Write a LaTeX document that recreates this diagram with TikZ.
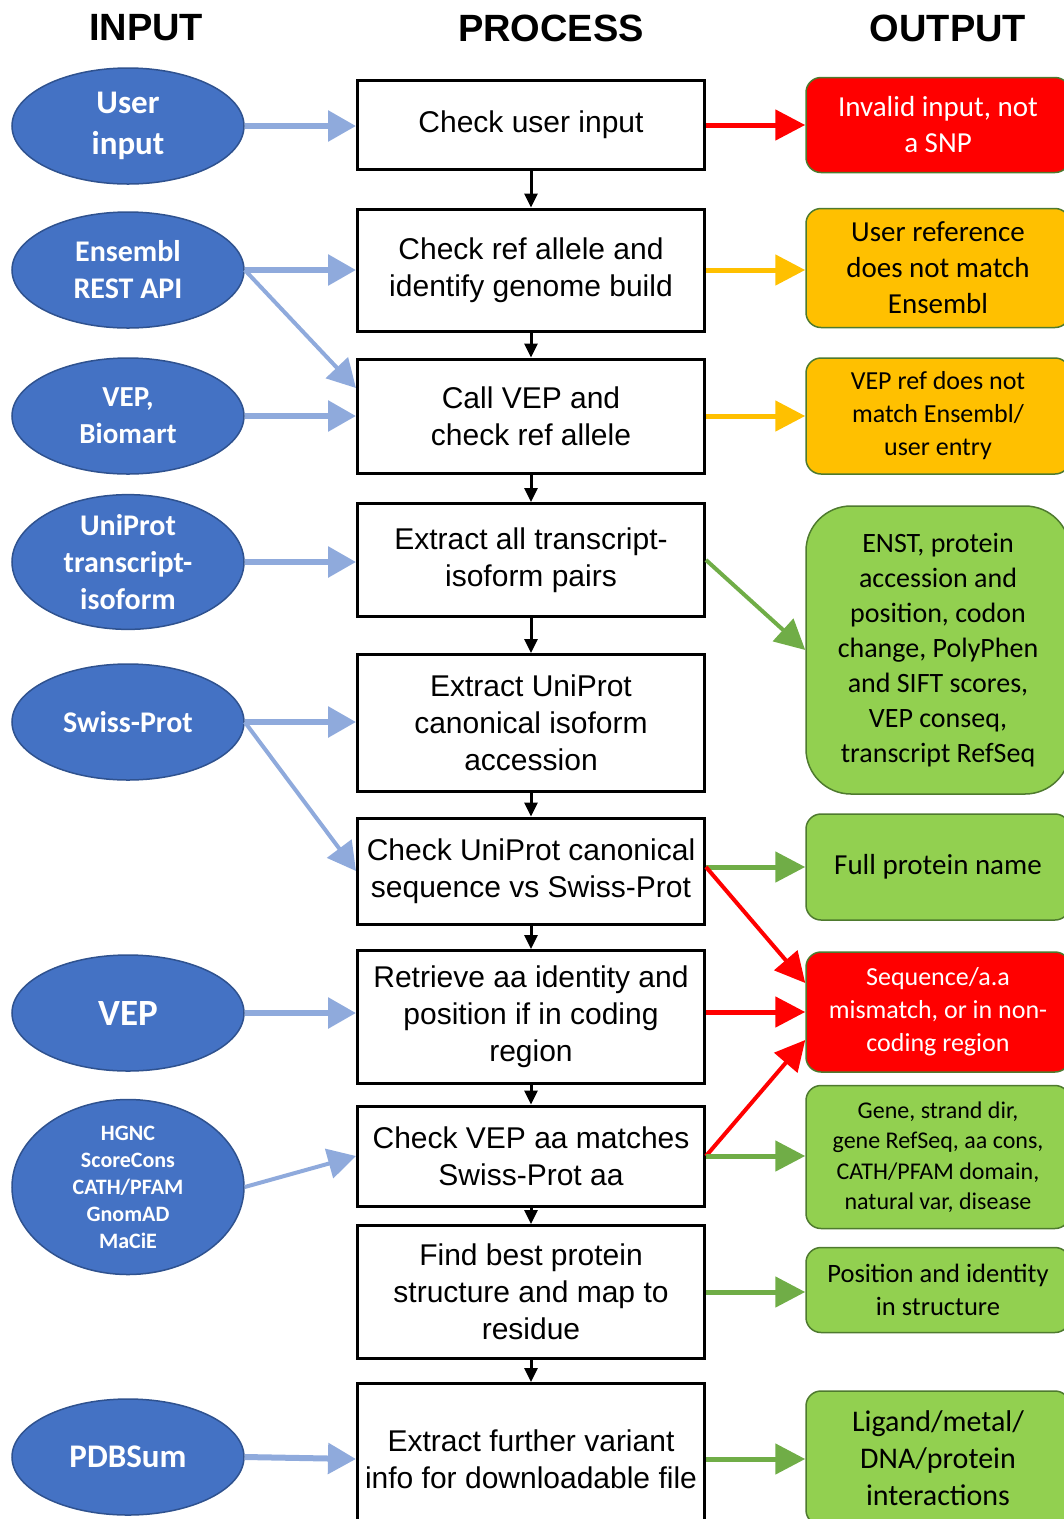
\documentclass[tikz,border=0pt]{standalone}
\usepackage{fontspec}
\setmainfont{Liberation Sans}
\newfontfamily\calibri{Carlito}
\usetikzlibrary{arrows.meta,shapes.geometric}

\definecolor{inblue}{HTML}{4472C4}
\definecolor{inedge}{HTML}{2F528F}
\definecolor{arrblue}{HTML}{8FAADC}
\definecolor{outred}{HTML}{FF0000}
\definecolor{outorange}{HTML}{FFC000}
\definecolor{outgreen}{HTML}{92D050}
\definecolor{outedge}{HTML}{4E7A2E}
\definecolor{arrgreen}{HTML}{70AD47}
\newcommand{\fsz}[2]{\fontsize{#1}{#2}\selectfont}

\begin{document}
\begin{tikzpicture}[x=1pt,y=-1pt,
    head/.style={font=\bfseries\fsz{38}{44}},
    src/.style={ellipse,draw=inedge,line width=1.5pt,fill=inblue,text=white,minimum width=232pt,minimum height=116pt,inner sep=0pt,align=center,font=\calibri\bfseries\fsz{30}{37}},
    proc/.style={draw,line width=3pt,minimum width=347pt,inner sep=1pt,align=center,font=\fsz{30}{37}},
    res/.style={draw=outedge,line width=1.5pt,rounded corners=15pt,minimum width=264pt,inner sep=2pt,align=center,font=\calibri\fsz{29}{36}},
    flow/.style={-{Triangle[length=14pt,width=13pt]},line width=3pt},
    feed/.style={-{Triangle[length=28pt,width=30pt]},line width=6pt,draw=arrblue},
    feedslant/.style={feed,line width=4pt},
    outarr/.style={-{Triangle[length=30pt,width=30pt]},line width=5pt},
    outslant/.style={outarr,line width=4pt}
  ]
    \useasboundingbox (0,0) rectangle (1064,1519);
    \clip (0,0) rectangle (1064,1519);

    % column headers
    \node[head] (hin) at (146,28) {INPUT};
    \node[head] (hproc) at (551,28) {PROCESS};
    \node[head] (hout) at (948,28) {OUTPUT};

    % process column
    \node[proc,minimum height=89pt] (p1) at (531,125) {Check user input};
    \node[proc,minimum height=122pt] (p2) at (531,270) {Check ref allele and\\identify genome build};
    \node[proc,minimum height=114pt] (p3) at (531,416) {Call VEP and\\check ref allele};
    \node[proc,minimum height=113pt] (p4) at (531,560) {Extract all transcript-\\isoform pairs};
    \node[proc,minimum height=137pt] (p5) at (531,723) {Extract UniProt\\canonical isoform\\accession};
    \node[proc,minimum height=106pt] (p6) at (531,871) {Check UniProt canonical\\sequence vs Swiss-Prot};
    \node[proc,minimum height=133pt] (p7) at (531,1017) {Retrieve aa identity and\\position if in coding\\region};
    \node[proc,minimum height=100pt] (p8) at (531,1156) {Check VEP aa matches\\Swiss-Prot aa};
    \node[proc,minimum height=133pt] (p9) at (531,1292) {Find best protein\\structure and map to\\residue};
    \node[proc,minimum height=151pt] (p10) at (531,1459) {Extract further variant\\info for downloadable file};

    % inputs
    \node[src,font=\calibri\bfseries\fsz{33}{41}] (userin) at (128,126) {User\\input};
    \node[src] (ensembl) at (128,270) {Ensembl\\REST API};
    \node[src,font=\calibri\bfseries\fsz{29}{37}] (vepbio) at (128,416) {VEP,\\Biomart};
    \node[src] (uniprot) at (128,562) {UniProt\\transcript-\\isoform};
    \node[src] (swiss) at (128,722) {Swiss-Prot};
    \node[src,font=\calibri\bfseries\fsz{37}{44}] (vep) at (128,1013) {VEP};
    \node[src,minimum height=175pt,font=\calibri\bfseries\fsz{22}{27}] (hgnc) at (128,1187) {HGNC\\ScoreCons\\CATH/PFAM\\GnomAD\\MaCiE};
    \node[src,font=\calibri\bfseries\fsz{33}{40}] (pdbsum) at (128,1457) {PDBSum};

    % outputs
    \node[res,fill=outred,text=white,minimum height=95pt] (invalid) at (938,125) {Invalid input, not\\a SNP};
    \node[res,fill=outorange,minimum height=119pt] (usermis) at (938,268) {User reference\\does not match\\Ensembl};
    \node[res,fill=outorange,minimum height=116pt,font=\calibri\fsz{26}{33}] (vepmis) at (938,416) {VEP ref does not\\match Ensembl/\\user entry};
    \node[res,fill=outgreen,minimum height=288pt,rounded corners=45pt,font=\calibri\fsz{28}{35}] (enst) at (938,650) {ENST, protein\\accession and\\position, codon\\change, PolyPhen\\and SIFT scores,\\VEP conseq,\\transcript RefSeq};
    \node[res,fill=outgreen,minimum height=106pt] (fullname) at (938,867) {Full protein name};
    \node[res,fill=outred,text=white,minimum height=120pt,font=\calibri\fsz{26}{33}] (seqmis) at (938,1012) {Sequence/a.a\\mismatch, or in non-\\coding region};
    \node[res,fill=outgreen,minimum height=143pt,font=\calibri\fsz{24}{30.5}] (gene) at (938,1157) {Gene, strand dir,\\gene RefSeq, aa cons,\\CATH/PFAM domain,\\natural var, disease};
    \node[res,fill=outgreen,minimum height=85pt,font=\calibri\fsz{26.5}{33}] (posid) at (938,1290) {Position and identity\\in structure};
    \node[res,fill=outgreen,minimum height=134pt,font=\calibri\fsz{30}{37}] (ligand) at (938,1458) {Ligand/metal/\\DNA/protein\\interactions};

    % process flow
    \foreach \a/\b in {p1/p2,p2/p3,p3/p4,p4/p5,p5/p6,p6/p7,p7/p8,p8/p9,p9/p10}
      \draw[flow] (\a.south) -- (\b.north);

    % inputs into process
    \draw[feed] (userin.east) -- (userin.east -| p1.west);
    \draw[feed] (ensembl.east) -- (ensembl.east -| p2.west);
    \draw[feedslant] (ensembl.east) -- ([yshift=28pt]p3.west);
    \draw[feed] (vepbio.east) -- (vepbio.east -| p3.west);
    \draw[feed] (uniprot.east) -- (uniprot.east -| p4.west);
    \draw[feed] (swiss.east) -- (swiss.east -| p5.west);
    \draw[feedslant] (swiss.east) -- (p6.west);
    \draw[feed] (vep.east) -- (vep.east -| p7.west);
    \draw[feedslant] (hgnc.east) -- (p8.west);
    \draw[feed] (pdbsum.east) -- (p10.west);

    % process into outputs
    \draw[outarr,draw=outred] (p1.east) -- (invalid.west);
    \draw[outarr,draw=outorange] (p2.east) -- (p2.east -| usermis.west);
    \draw[outarr,draw=outorange] (p3.east) -- (vepmis.west);
    \draw[outslant,draw=arrgreen] (p4.east) -- (enst.west);
    \draw[outarr,draw=arrgreen] (fullname.west -| p6.east) -- (fullname.west);
    \draw[outslant,draw=outred] (fullname.west -| p6.east) -- ([yshift=29pt]seqmis.west);
    \draw[outarr,draw=outred] (seqmis.west -| p7.east) -- (seqmis.west);
    \draw[outslant,draw=outred] (p8.east) -- ([yshift=-28pt]seqmis.west);
    \draw[outarr,draw=arrgreen] (p8.east) -- (p8.east -| gene.west);
    \draw[outarr,draw=arrgreen] (p9.east) -- (p9.east -| posid.west);
    \draw[outarr,draw=arrgreen] (p10.east) -- (p10.east -| ligand.west);
  \end{tikzpicture}
\end{document}
